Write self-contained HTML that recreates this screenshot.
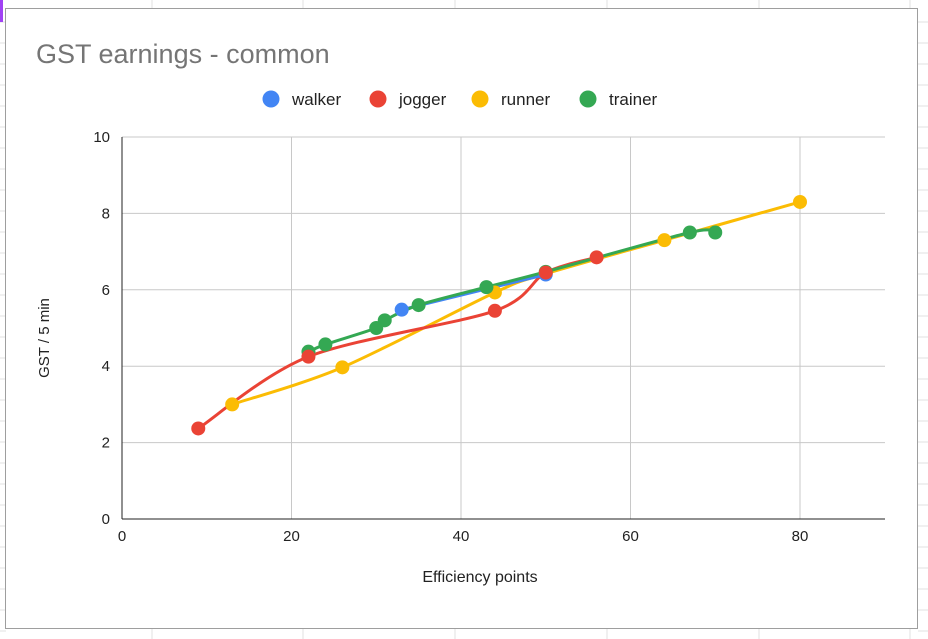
<!DOCTYPE html>
<html><head><meta charset="utf-8"><style>
body{margin:0;background:#fff;font-family:"Liberation Sans",Arial,sans-serif;}
svg{display:block}
</style></head><body>
<svg id="c" width="928" height="639" xmlns="http://www.w3.org/2000/svg"></svg>
<script>
const xTicks=[0,20,40,60,80];
const yTicks=[0,2,4,6,8,10];
const seriesNames=["walker","jogger","runner","trainer"];
const seriesColors=["#4285f4","#ea4335","#fbbc04","#34a853"];
const walkerX=[33,50];
const walkerY=[5.48,6.4];
const joggerX=[9,22,44,50,56];
const joggerY=[2.37,4.25,5.45,6.45,6.85];
const runnerX=[13,26,44,50,64,80];
const runnerY=[3.0,3.97,5.93,6.42,7.3,8.3];
const trainerX=[22,24,30,31,35,43,50,67,70];
const trainerY=[4.38,4.57,5.0,5.2,5.6,6.07,6.47,7.5,7.5];
const xs=[walkerX,joggerX,runnerX,trainerX], ys=[walkerY,joggerY,runnerY,trainerY];
const svg=document.getElementById('c');const NS="http://www.w3.org/2000/svg";
const X0=122,X1=885,Y0=519,Y1=137;
const sx=v=>X0+v*(800-122)/80, sy=v=>Y0-v*(Y0-Y1)/10;
function mk(t,a,p){const e=document.createElementNS(NS,t);for(const k in a)e.setAttribute(k,a[k]);(p||svg).appendChild(e);return e;}
for(let x of [152,303,455,607,759,910]){const l=mk('line',{x1:x,y1:0,x2:x,y2:639,stroke:'#e2e2e2'});}
for(let y of [22,43,64,85,106,127,148,169,190,211,232,253,274,295,316,337,358,379,400,421,442,463,484,505,526,547,568,589,610,631]){const l=mk('line',{x1:0,y1:y,x2:6,y2:y,stroke:'#e2e2e2'});const l2=mk('line',{x1:918,y1:y,x2:928,y2:y,stroke:'#e2e2e2'});}
mk('rect',{x:0,y:0,width:3,height:22,fill:'#a142f4'});
const frame=mk('rect',{x:5.5,y:8.5,width:912,height:620,fill:'#fff',stroke:'#9e9e9e'});

const title=mk('text',{x:36,y:63,'font-size':27,fill:'#757575'});title.textContent='GST earnings - common';

const lx=[271,378,480,588];
seriesNames.forEach((n,i)=>{const g=mk('g',{});
mk('circle',{cx:lx[i],cy:99,r:8.5,fill:seriesColors[i]},g);const t=mk('text',{x:lx[i]+21,y:105,'font-size':17,fill:'#222'},g);t.textContent=n;});
xTicks.forEach(v=>{if(v>0){const l=mk('line',{x1:sx(v),y1:Y1,x2:sx(v),y2:Y0,stroke:'#c8c8c8'});}
const t=mk('text',{x:sx(v),y:541,'font-size':15,fill:'#222','text-anchor':'middle'});t.textContent=v;});
yTicks.forEach(v=>{if(v>0){const l=mk('line',{x1:X0,y1:sy(v),x2:X1,y2:sy(v),stroke:'#c8c8c8'});}
const t=mk('text',{x:110,y:sy(v)+5,'font-size':15,fill:'#222','text-anchor':'end'});t.textContent=v;});
mk('line',{x1:X0,y1:Y1,x2:X0,y2:Y0,stroke:'#222'});
mk('line',{x1:X0,y1:Y0,x2:X1,y2:Y0,stroke:'#222'});
const xt=mk('text',{x:480,y:582,'font-size':16,fill:'#222','text-anchor':'middle'});xt.textContent='Efficiency points';

const yt=mk('text',{x:49,y:338,'font-size':15,fill:'#222','text-anchor':'middle',transform:'rotate(-90 49 338)'});yt.textContent='GST / 5 min';

function smooth(p){let d='M'+p[0][0]+','+p[0][1];for(let i=0;i<p.length-1;i++){const a=p[i-1]||p[i],b=p[i],c=p[i+1],e=p[i+2]||c;const k=0.15;
d+=` C${b[0]+(c[0]-a[0])*k},${b[1]+(c[1]-a[1])*k} ${c[0]-(e[0]-b[0])*k},${c[1]-(e[1]-b[1])*k} ${c[0]},${c[1]}`;}return d;}
[2,1,0,3].forEach(i=>{const pts=xs[i].map((x,j)=>[sx(x),sy(ys[i][j])]);
const p=mk('path',{d:smooth(pts),fill:'none',stroke:seriesColors[i],'stroke-width':3});
});
[2,3,0,1].forEach(i=>{xs[i].forEach((x,j)=>{const c=mk('circle',{cx:sx(x),cy:sy(ys[i][j]),r:7,fill:seriesColors[i]});
});});
</script>
</body></html>
